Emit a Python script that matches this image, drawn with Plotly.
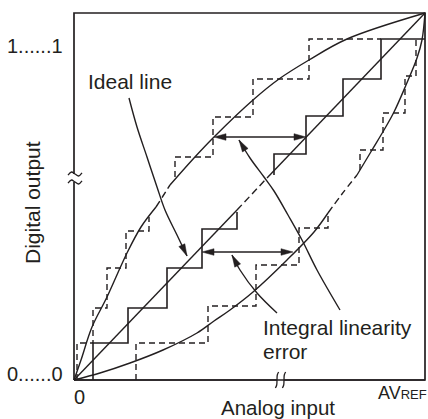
import plotly.graph_objects as go

INK = "#231f20"
FONT = "Arial, Liberation Sans, Helvetica, sans-serif"

# Drawing units: analog input 0..AVREF, digital output 0..full scale
X_MAX = 351
Y_MAX = 367

# Ideal conversion line (dashed in the omitted middle range)
IDEAL_X = [0, 163, 193, 351]
IDEAL_Y = [0, 170, 202, 367]

# Actual converter staircase (solid): transitions and output levels
ACT_LO_T = [19, 54, 93, 128, 163]
ACT_LO_LV = [0, 37, 72, 112, 151, 168]
ACT_HI_T = [200, 232, 269, 307]
ACT_HI_LV = [205, 226, 264, 301, 341]
ACT_HI_END = 351

# Staircase bowed upward (dashed)
POS_LO_T = [3, 19, 33, 52, 75]
POS_LO_LV = [0, 37, 72, 112, 149, 163]
POS_HI_T = [101, 139, 179, 235]
POS_HI_LV = [203, 223, 263, 301, 341]
POS_HI_END = 307

# Staircase bowed downward (dashed)
NEG_LO_T = [62, 134, 182, 225, 254]
NEG_LO_LV = [0, 37, 74, 115, 152, 167]
NEG_HI_T = [286, 309, 331, 342]
NEG_HI_LV = [210, 230, 267, 304, 341]

# Envelope curves
UP_CURVE_X = [0, 7, 18, 33, 53, 67, 82, 89, 96, 120, 140, 179, 205, 235, 273, 351]
UP_CURVE_Y = [0, 20, 53, 83, 127, 153, 173, 184, 195, 222, 243, 280, 301, 320, 341, 367]
UP_BREAK = (6, 8)
LOW_CURVE_X = [0, 26, 56, 89, 123, 140, 156, 179, 213, 240, 254, 268, 283, 298, 310, 320, 332, 343, 348, 351]
LOW_CURVE_Y = [0, 7, 17, 30, 47, 59, 70, 88, 120, 148, 167, 186, 205, 230, 250, 268, 295, 322, 340, 367]
LOW_BREAK = (10, 12)

# Error arrows (horizontal, double headed): y, x_left, x_right
ERR_ARROWS = [(243, 140, 232), (128, 128, 219)]

# Leader arrows
IDEAL_LEADER_X = [55, 63, 73, 83, 91, 103, 113]
IDEAL_LEADER_Y = [282, 253, 223, 193, 170, 145, 124]
ILE_A_X = [203, 183, 166, 158]
ILE_A_Y = [67, 87, 110, 125]
ILE_B_X = [266, 243, 228, 214, 200, 190, 176, 165]
ILE_B_Y = [70, 110, 140, 165, 189, 203, 222, 240]

fig = go.Figure()


def add_line(xs, ys, dash="solid", width=1.4, shape="linear"):
    fig.add_trace(go.Scatter(x=xs, y=ys, mode="lines",
                             line=dict(color=INK, width=width, dash=dash, shape=shape),
                             hoverinfo="skip"))


def steps(T, LV, end_x=None):
    xs, ys = [T[0]], [LV[0]]
    for i, t in enumerate(T):
        xs.append(t); ys.append(LV[i + 1])
        if i + 1 < len(T):
            xs.append(T[i + 1]); ys.append(LV[i + 1])
    if end_x is not None:
        xs.append(end_x); ys.append(LV[-1])
    return xs, ys


def head(tip, frm, L=12, W=3.3):
    dx, dy = tip[0] - frm[0], tip[1] - frm[1]
    n = (dx * dx + dy * dy) ** 0.5
    ux, uy = dx / n, dy / n
    bx, by = tip[0] - ux * L, tip[1] - uy * L
    px, py = -uy * W, ux * W
    fig.add_trace(go.Scatter(x=[tip[0], bx + px, bx - px, tip[0]],
                             y=[tip[1], by + py, by - py, tip[1]],
                             mode="lines", fill="toself", fillcolor=INK,
                             line=dict(color=INK, width=0.5), hoverinfo="skip"))


DASH = "6px,4px"

# dashed staircases
for T, LV, e in [(POS_LO_T, POS_LO_LV, None), (POS_HI_T, POS_HI_LV, POS_HI_END),
                 (NEG_LO_T, NEG_LO_LV, None), (NEG_HI_T, NEG_HI_LV, None)]:
    xs, ys = steps(T, LV, e)
    add_line(xs, ys, dash=DASH, width=1.4)

# solid staircase
for T, LV, e in [(ACT_LO_T, ACT_LO_LV, None), (ACT_HI_T, ACT_HI_LV, ACT_HI_END)]:
    xs, ys = steps(T, LV, e)
    add_line(xs, ys, width=1.6)

# ideal line
add_line(IDEAL_X[:2], IDEAL_Y[:2], width=1.4)
add_line(IDEAL_X[1:3], IDEAL_Y[1:3], dash="7px,4px", width=1.4)
add_line(IDEAL_X[2:], IDEAL_Y[2:], width=1.4)

# curves
for cx, cy, (b0, b1) in [(UP_CURVE_X, UP_CURVE_Y, UP_BREAK), (LOW_CURVE_X, LOW_CURVE_Y, LOW_BREAK)]:
    add_line(cx[:b0 + 1], cy[:b0 + 1], width=1.4, shape="spline")
    add_line(cx[b0:b1 + 1], cy[b0:b1 + 1], dash="7px,4px", width=1.4, shape="spline")
    add_line(cx[b1:], cy[b1:], width=1.4, shape="spline")

# double-headed error arrows
for y, xl, xr in ERR_ARROWS:
    add_line([xl + 6, xr - 6], [y, y], width=1.4)
    head((xl, y), (xr, y))
    head((xr, y), (xl, y))

# leaders
for lx, ly in [(IDEAL_LEADER_X, IDEAL_LEADER_Y), (ILE_A_X, ILE_A_Y), (ILE_B_X, ILE_B_Y)]:
    add_line(lx, ly, width=1.4, shape="spline")
    head((lx[-1], ly[-1]), (lx[-2], ly[-2]))

# frame with axis breaks
Y_GAP = (198, 206)
X_GAP = (203, 210)
fx = [0, 0, None, 0, 0, X_MAX, X_MAX, 0, None, 0, X_GAP[0], None, X_GAP[1], X_MAX]
fy = [0, Y_GAP[0], None, Y_GAP[1], Y_MAX, Y_MAX, 0, 0, None, 0, 0, None, 0, 0]
fig.add_trace(go.Scatter(x=fx, y=fy, mode="lines", line=dict(color=INK, width=1.7),
                         hoverinfo="skip"))

# break marks
for yc in Y_GAP:
    add_line([-6, -2.5, 1, 4.5, 8], [yc - 1.2, yc + 2, yc, yc - 2, yc + 1.2], width=1.3, shape="spline")
for xc in X_GAP:
    add_line([xc - 1.6, xc - 0.3, xc, xc + 0.3, xc + 1.6], [-8, -5, 0, 5, 8], width=1.3, shape="spline")

ann = []


def text(x, y, s, xa="left", size=21, angle=0):
    ann.append(dict(x=x, y=y, xref="x", yref="y", text=s, showarrow=False,
                    xanchor=xa, yanchor="middle", textangle=angle, borderpad=0,
                    font=dict(family=FONT, size=size, color=INK)))


text(13, 298.5, "Ideal line")
text(188, 53, "Integral linearity")
text(188, 29, "error")
text(-10, 334, "1......1", xa="right", size=20)
text(-10, 6, "0......0", xa="right", size=20)
text(5, -17, "0", xa="center", size=20)
text(354, -13, "AV<span style='font-size:13px'>REF</span>", xa="right", size=18)
text(204, -27, "Analog input", xa="center", size=20.5)
text(-42, 177, "Digital output", xa="center", angle=-90)

fig.update_layout(
    width=428, height=419,
    margin=dict(l=0, r=0, t=0, b=0, pad=0),
    paper_bgcolor="white", plot_bgcolor="white",
    showlegend=False,
    xaxis=dict(range=[-74, 354], visible=False, fixedrange=True),
    yaxis=dict(range=[-39, 380], visible=False, fixedrange=True),
    annotations=ann,
)

fig.write_html("out.html", config={"displayModeBar": False},
               post_script="document.body.style.margin='0';document.body.style.overflow='hidden';")
